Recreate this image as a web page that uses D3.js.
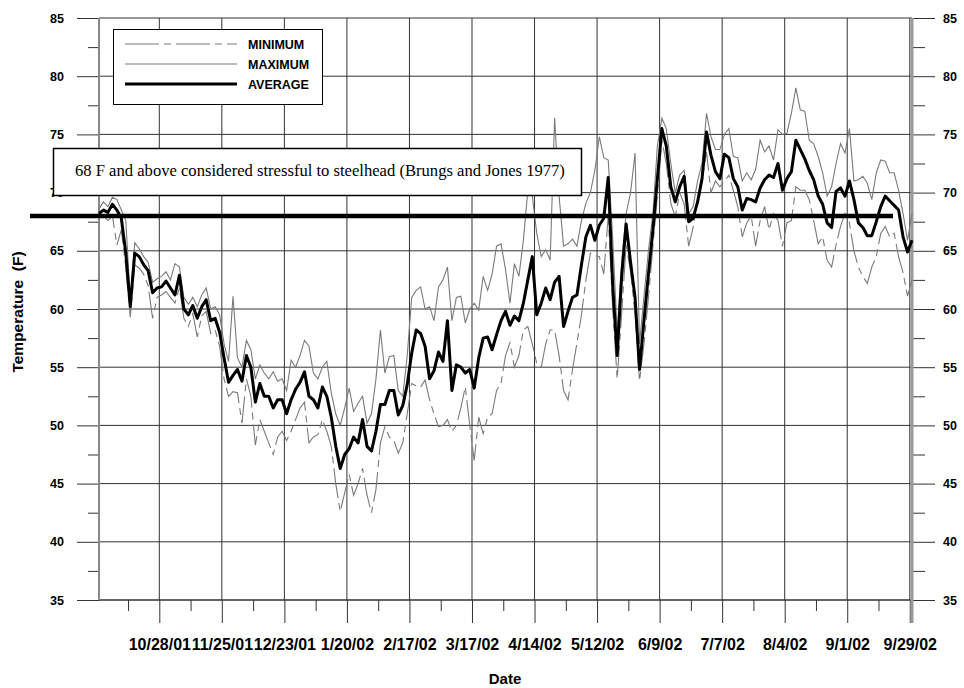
<!DOCTYPE html>
<html>
<head>
<meta charset="utf-8">
<script src="https://cdn.jsdelivr.net/npm/d3@7"></script>
<style>
  body { margin: 0; background: #fff; }
  svg { display: block; font-family: Arial, "Liberation Sans", sans-serif; }
</style>
</head>
<body>
<script>
// Daily water temperature record, Oct 1 2001 - Sep 30 2002, one value every 2 days
const startDate = new Date(2001, 9, 1);
const stepDays = 2;

const avgTemp = [
  68.2, 68.5, 68.3, 69.0, 68.5, 67.8, 64.8, 60.2, 64.8, 64.5, 63.8, 63.3, 61.4, 61.8, 61.9, 62.4, 61.8,
  61.2, 62.9, 60.0, 59.5, 60.3, 59.2, 60.2, 60.8, 59.0, 59.2, 58.0, 55.8, 53.7, 54.3, 54.8, 53.8, 56.0,
  55.0, 52.0, 53.6, 52.5, 52.5, 51.5, 52.2, 52.2, 51.0, 52.2, 53.1, 53.7, 54.6, 52.5, 52.2, 51.5, 53.3,
  52.5, 50.7, 48.2, 46.3, 47.5, 48.0, 49.0, 48.5, 50.5, 48.2, 47.8, 49.5, 51.8, 51.8, 53.0, 53.0, 50.9,
  51.7, 53.5, 56.2, 58.2, 57.9, 56.8, 54.0, 54.7, 56.3, 55.5, 59.0, 53.0, 55.2, 55.0, 54.5, 54.8, 53.2,
  55.8, 57.5, 57.6, 56.5, 57.8, 59.0, 59.8, 58.6, 59.4,
  59.0, 60.5, 62.5, 64.5, 59.5, 60.5, 61.8, 60.8, 62.3, 62.8, 58.5, 59.8, 61.0, 61.2, 63.8, 66.2, 67.2,
  65.9, 67.2, 67.8, 71.3, 62.0, 56.0, 62.8, 67.3, 64.0, 61.0, 54.8, 59.0, 63.0, 66.8, 71.2, 75.5, 74.0,
  70.5, 69.2, 70.5, 71.4, 67.5, 67.8, 69.2, 71.2, 75.2, 73.2, 71.8, 71.2, 73.3, 73.0, 71.2, 70.5, 68.5,
  69.5, 69.4, 69.2, 70.4, 71.1, 71.5, 71.3, 72.5, 70.2, 71.2, 71.8, 74.5, 73.7, 72.9, 71.9, 71.1, 69.7,
  69.0, 67.4, 67.0, 70.1, 70.4, 69.7, 71.0, 69.4, 67.4, 67.0, 66.3, 66.3, 67.5, 68.8, 69.7, 69.3, 68.9,
  68.5, 66.2, 64.9, 65.9
];

const maxTemp = [
  68.6, 69.2, 68.8, 69.6, 69.4, 68.5, 67.6, 60.8, 65.7, 65.2, 64.5, 64.0, 62.3, 62.6, 62.8, 63.2, 62.5,
  63.9, 63.6, 61.0, 60.4, 61.0, 60.2, 61.2, 61.8, 60.0, 60.2, 59.5, 57.0, 55.5, 61.1, 55.8, 55.0, 57.3,
  56.5, 54.0, 55.2, 54.5, 54.0, 54.6, 53.8, 54.0, 53.0, 55.6, 55.0, 56.0, 57.3, 56.8, 54.5, 54.0, 55.0,
  55.5, 52.8, 51.0, 50.0, 51.5, 53.2, 51.2, 51.9, 52.5, 50.2, 51.0, 54.0, 58.2, 54.5, 55.9, 56.0, 53.0,
  52.5, 56.0, 61.0, 61.6, 61.9, 60.0, 60.2, 59.0, 61.9, 62.5, 63.6, 59.0, 61.0, 61.1, 58.8, 60.0, 60.5,
  59.9, 62.8, 61.6, 63.0, 65.4, 65.6, 63.4, 60.5, 63.9,
  62.8, 65.9, 70.2, 69.7, 66.5, 64.5, 65.1, 64.2, 76.4, 69.7, 65.4, 65.6, 66.0, 65.4, 67.6, 69.1, 70.0,
  71.9, 74.8, 73.0, 72.8, 66.0, 58.0, 64.0, 68.2, 70.0, 73.4, 57.0, 61.1, 65.0, 68.2, 74.0, 76.4, 75.5,
  72.5, 70.0, 71.5, 71.9, 68.2, 68.8, 71.0, 72.5, 76.8, 74.8, 73.7, 73.7, 75.0, 75.5, 73.1, 73.0, 71.0,
  71.7, 71.1, 72.0, 74.5, 73.5, 74.0, 72.8, 75.4, 75.0, 75.1, 76.8, 79.0, 77.1, 77.0, 74.5, 74.2, 73.1,
  71.7, 69.7, 70.5, 72.5, 74.2, 73.4, 75.5, 71.0, 71.1, 71.4, 70.8, 69.4, 71.7, 72.8, 72.7, 71.7, 71.7,
  70.2, 68.2, 65.9, 68.2
];

const minTemp = [
  67.8, 68.0, 67.6, 68.0, 65.5, 66.8, 63.5, 59.3, 63.8, 63.5, 63.0, 62.0, 59.2, 61.0, 61.2, 61.5, 61.0,
  60.5, 61.8, 59.2, 58.5, 59.6, 57.6, 59.4, 59.8, 57.9, 58.2, 56.8, 54.0, 52.5, 52.9, 52.8, 50.2, 54.0,
  52.5, 48.3, 50.5, 49.5, 48.5, 47.5, 49.0, 49.5, 48.7, 49.5, 50.5, 51.5, 52.0, 48.5, 49.0, 49.2, 50.5,
  49.5, 48.2, 45.0, 42.6, 44.2, 45.8, 44.0, 45.0, 46.3, 44.0, 42.5, 44.5, 48.5, 49.9, 49.0, 48.7, 47.6,
  48.5, 51.0, 53.6, 53.4, 53.3, 53.9, 52.2, 51.0, 49.9, 50.0, 50.5, 49.5, 50.0, 51.5, 53.3, 50.0, 47.0,
  50.7, 49.3, 50.7, 51.0, 53.0, 53.6, 56.0, 57.1, 55.0,
  56.0, 58.2, 58.5, 57.0, 55.3, 55.0, 57.0, 58.2, 58.2, 56.0, 53.0, 52.2, 54.8, 57.1, 59.5, 62.5, 64.8,
  64.6, 64.5, 63.0, 68.0, 60.0, 54.0, 59.6, 65.5, 63.2, 59.6, 53.8, 57.0, 61.0, 65.4, 69.7, 74.5, 72.5,
  69.1, 67.9, 70.0, 69.0, 65.4, 67.0, 69.4, 71.0, 73.5, 70.0, 71.0, 70.5, 71.0, 71.5, 70.2, 68.8, 66.2,
  67.4, 68.0, 65.4, 67.6, 68.8, 66.8, 68.2, 67.6, 65.4, 67.4, 67.6, 70.5, 70.2, 70.2, 69.4, 67.6, 65.6,
  66.2, 64.2, 63.6, 65.5, 67.1, 68.2, 67.4, 65.0, 63.6, 62.8, 62.2, 63.6, 64.5, 66.5, 67.1, 66.2, 66.5,
  64.5, 63.1, 61.1, 62.5
];

const majorTickDates = [
  "2001-10-28", "2001-11-25", "2001-12-23", "2002-01-20", "2002-02-17", "2002-03-17", "2002-04-14",
  "2002-05-12", "2002-06-09", "2002-07-07", "2002-08-04", "2002-09-01", "2002-09-29"
];
const majorTickLabels = [
  "10/28/01", "11/25/01", "12/23/01", "1/20/02", "2/17/02", "3/17/02", "4/14/02",
  "5/12/02", "6/9/02", "7/7/02", "8/4/02", "9/1/02", "9/29/02"
];
const minorTickDates = [
  "2001-10-14", "2001-11-11", "2001-12-09", "2002-01-06", "2002-02-03", "2002-03-03", "2002-03-31",
  "2002-04-28", "2002-05-26", "2002-06-23", "2002-07-21", "2002-08-18", "2002-09-15"
];
const yMajor = [35, 40, 45, 50, 55, 60, 65, 70, 75, 80, 85];
const yMinor = [37.5, 42.5, 47.5, 52.5, 57.5, 62.5, 67.5, 72.5, 77.5, 82.5];

const thresholdValue = 68;
const thresholdNote = "68 F and above considered stressful to steelhead (Brungs and Jones 1977)";

const parseDay = d3.timeParse("%Y-%m-%d");
const majorDates = majorTickDates.map(parseDay);
const minorDates = minorTickDates.map(parseDay);

const width = 964, height = 688;
const gridColor = "#333";

const svg = d3.select("body").append("svg")
    .attr("width", width)
    .attr("height", height);

const x = d3.scaleTime()
    .domain([startDate, new Date(2002, 8, 30)])
    .range([99, 912]);
const y = d3.scaleLinear()
    .domain([35, 85])
    .range([600, 18]);

const rows = avgTemp.map((v, i) => ({
    date: d3.timeDay.offset(startDate, i * stepDays),
    avg: v,
    max: maxTemp[i],
    min: minTemp[i]
}));

// grid lines
svg.append("g").selectAll("line")
    .data(yMajor)
    .join("line")
    .attr("x1", x.range()[0]).attr("x2", x.range()[1])
    .attr("y1", d => y(d)).attr("y2", d => y(d))
    .attr("stroke", gridColor).attr("stroke-width", 1);

svg.append("g").selectAll("line")
    .data(majorDates)
    .join("line")
    .attr("x1", d => x(d)).attr("x2", d => x(d))
    .attr("y1", y(85)).attr("y2", y(35))
    .attr("stroke", gridColor).attr("stroke-width", 1);

// left axis
const leftMajor = svg.append("g")
    .attr("transform", `translate(${x.range()[0]},0)`)
    .call(d3.axisLeft(y).tickValues(yMajor).tickSize(22).tickPadding(13).tickSizeOuter(0));
const leftMinor = svg.append("g")
    .attr("transform", `translate(${x.range()[0]},0)`)
    .call(d3.axisLeft(y).tickValues(yMinor).tickSize(11).tickFormat("").tickSizeOuter(0));

// right axis
const rightMajor = svg.append("g")
    .attr("transform", `translate(${x.range()[1]},0)`)
    .call(d3.axisRight(y).tickValues(yMajor).tickSize(23).tickPadding(8).tickSizeOuter(0));
const rightMinor = svg.append("g")
    .attr("transform", `translate(${x.range()[1]},0)`)
    .call(d3.axisRight(y).tickValues(yMinor).tickSize(13).tickFormat("").tickSizeOuter(0));

// bottom axis
const bottomMajor = svg.append("g")
    .attr("transform", `translate(0,${y(35)})`)
    .call(d3.axisBottom(x).tickValues(majorDates).tickSize(23).tickPadding(16)
        .tickFormat((d, i) => majorTickLabels[i]).tickSizeOuter(0));
const bottomMinor = svg.append("g")
    .attr("transform", `translate(0,${y(35)})`)
    .call(d3.axisBottom(x).tickValues(minorDates).tickSize(11).tickFormat("").tickSizeOuter(0));

[leftMajor, leftMinor, rightMajor, rightMinor, bottomMajor, bottomMinor].forEach(g => {
    g.select(".domain").remove();
    g.selectAll(".tick line").attr("stroke", gridColor).attr("stroke-width", 1);
    g.selectAll("text")
        .attr("fill", "#000")
        .style("font-family", "Arial, 'Liberation Sans', sans-serif")
        .style("font-weight", "bold");
});
leftMajor.selectAll("text").style("font-size", "12.5px");
rightMajor.selectAll("text").style("font-size", "12.5px");
bottomMajor.selectAll("text").style("font-size", "16px");

// bottom axis line and side axis lines
svg.append("line")
    .attr("x1", x.range()[0]).attr("x2", x.range()[1])
    .attr("y1", y(35)).attr("y2", y(35))
    .attr("stroke", gridColor).attr("stroke-width", 1);
svg.append("line")
    .attr("x1", x.range()[0]).attr("x2", x.range()[0])
    .attr("y1", y(85)).attr("y2", y(35))
    .attr("stroke", "#888").attr("stroke-width", 2);
svg.append("line")
    .attr("x1", x.range()[1]).attr("x2", x.range()[1])
    .attr("y1", y(85)).attr("y2", y(35) + 23)
    .attr("stroke", "#999").attr("stroke-width", 3);

// data lines
const lineOf = key => d3.line()
    .x(d => x(d.date))
    .y(d => y(d[key]));

svg.append("path")
    .datum(rows)
    .attr("d", lineOf("max"))
    .attr("fill", "none")
    .attr("stroke", "#7a7a7a")
    .attr("stroke-width", 1.1);

svg.append("path")
    .datum(rows)
    .attr("d", lineOf("min"))
    .attr("fill", "none")
    .attr("stroke", "#7a7a7a")
    .attr("stroke-width", 1.1)
    .attr("stroke-dasharray", "30,5,7,5");

svg.append("path")
    .datum(rows)
    .attr("d", lineOf("avg"))
    .attr("fill", "none")
    .attr("stroke", "#000")
    .attr("stroke-width", 3)
    .attr("stroke-linejoin", "round");

// 68 F threshold line
svg.append("line")
    .attr("x1", 30).attr("x2", 893)
    .attr("y1", y(thresholdValue)).attr("y2", y(thresholdValue))
    .attr("stroke", "#000")
    .attr("stroke-width", 4.5);

// annotation box
svg.append("rect")
    .attr("x", 53.5).attr("y", 148.5)
    .attr("width", 528).attr("height", 47)
    .attr("fill", "#fff")
    .attr("stroke", "#000")
    .attr("stroke-width", 1.5);
svg.append("text")
    .attr("x", 75).attr("y", 176)
    .style("font-family", "'Liberation Serif', 'Times New Roman', serif")
    .style("font-size", "16.6px")
    .text(thresholdNote);

// legend
const legendItems = [
    { label: "MINIMUM", color: "#7a7a7a", width: 1.1, dash: "34,5,7,5" },
    { label: "MAXIMUM", color: "#7a7a7a", width: 1.1, dash: null },
    { label: "AVERAGE", color: "#000", width: 3, dash: null }
];
const legend = svg.append("g");
legend.append("rect")
    .attr("x", 113.5).attr("y", 29.5)
    .attr("width", 209).attr("height", 75)
    .attr("fill", "#fff")
    .attr("stroke", "#000")
    .attr("stroke-width", 1);
legendItems.forEach((item, i) => {
    const ly = 44 + i * 20;
    legend.append("line")
        .attr("x1", 125).attr("x2", 237)
        .attr("y1", ly).attr("y2", ly)
        .attr("stroke", item.color)
        .attr("stroke-width", item.width)
        .attr("stroke-dasharray", item.dash);
    legend.append("text")
        .attr("x", 248).attr("y", ly)
        .attr("dy", "0.36em")
        .style("font-size", "12.5px")
        .style("font-weight", "bold")
        .text(item.label);
});

// axis titles
svg.append("text")
    .attr("x", 505).attr("y", 684)
    .attr("text-anchor", "middle")
    .style("font-size", "15px")
    .style("font-weight", "bold")
    .text("Date");

svg.append("text")
    .attr("transform", "translate(23,312) rotate(-90)")
    .attr("text-anchor", "middle")
    .style("font-size", "15.5px")
    .style("font-weight", "bold")
    .style("white-space", "pre")
    .text("Temperature  (F)");
</script>
</body>
</html>
